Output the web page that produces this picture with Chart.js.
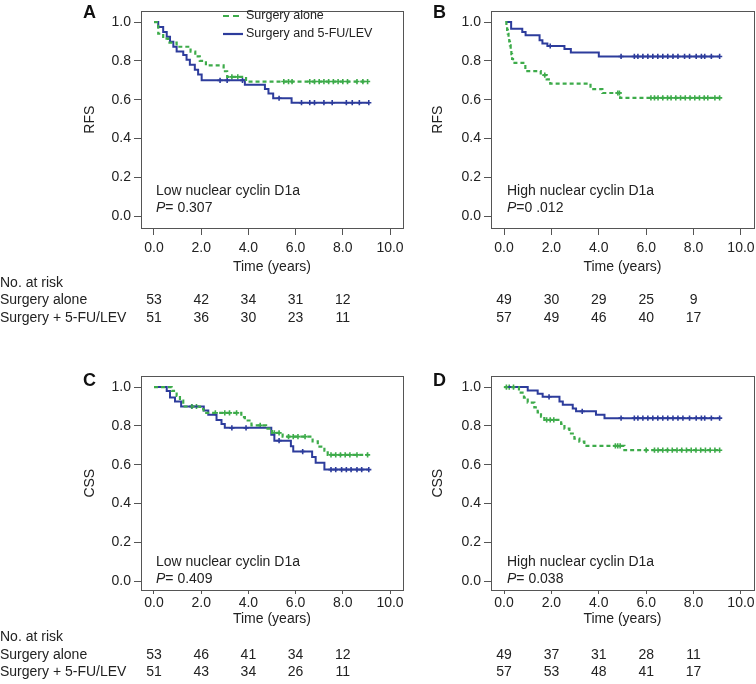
<!DOCTYPE html>
<html>
<head>
<meta charset="utf-8">
<script src="https://cdn.jsdelivr.net/npm/chart.js@4.4.1/dist/chart.umd.min.js"></script>
<style>
  body { margin: 0; background: #fff; }
  #wrap { position: relative; width: 756px; height: 684px; overflow: hidden; }
  canvas { position: absolute; }
</style>
</head>
<body>
<div id="wrap">
  <canvas id="cA" width="430" height="330" style="left:0;top:0"></canvas>
  <canvas id="cB" width="400" height="330" style="left:378px;top:0"></canvas>
  <canvas id="cC" width="430" height="319" style="left:0;top:365px"></canvas>
  <canvas id="cD" width="400" height="319" style="left:378px;top:365px"></canvas>
</div>
<script>
// axes
var xTicks = [0, 2, 4, 6, 8, 10];
var yTicks = [0, 0.2, 0.4, 0.6, 0.8, 1.0];
var riskTimes = [0, 2, 4, 6, 8];
var seriesNames = ['Surgery alone', 'Surgery and 5-FU/LEV'];
var riskRowNames = ['Surgery alone', 'Surgery + 5-FU/LEV'];

// A - RFS, low nuclear cyclin D1a
var A_aloneT = [0, 0.18, 0.39, 0.6, 0.96, 1.55, 1.75, 1.94, 2.2, 2.95, 3.1, 3.9, 9.05];
var A_aloneS = [1.0, 0.94, 0.915, 0.894, 0.873, 0.848, 0.823, 0.80, 0.777, 0.747, 0.718, 0.694, 0.694];
var A_aloneCens = [3.3, 3.55, 5.5, 5.7, 5.85, 6.6, 6.8, 7.0, 7.2, 7.4, 7.6, 7.8, 8.0, 8.2, 8.6, 8.85, 9.05];
var A_combT = [0.04, 0.18, 0.39, 0.54, 0.68, 0.82, 0.96, 1.24, 1.38, 1.52, 1.73, 1.87, 2.02, 3.85, 4.7, 4.85, 5.05, 5.83, 9.1];
var A_combS = [1.0, 0.975, 0.949, 0.924, 0.899, 0.873, 0.848, 0.831, 0.806, 0.78, 0.755, 0.73, 0.70, 0.678, 0.656, 0.632, 0.608, 0.585, 0.585];
var A_combCens = [2.8, 3.1, 3.75, 5.3, 6.25, 6.6, 6.8, 7.2, 7.55, 8.15, 8.4, 8.7, 9.1];
var A_riskAlone = [53, 42, 34, 31, 12];
var A_riskComb = [51, 36, 30, 23, 11];

// B - RFS, high nuclear cyclin D1a
var B_aloneT = [0.05, 0.1, 0.13, 0.16, 0.19, 0.22, 0.25, 0.28, 0.31, 0.34, 0.38, 0.9, 1.55, 1.8, 1.95, 3.65, 4.15, 4.9, 9.1];
var B_aloneS = [1.0, 0.98, 0.96, 0.94, 0.92, 0.90, 0.88, 0.855, 0.835, 0.81, 0.79, 0.748, 0.727, 0.705, 0.683, 0.655, 0.635, 0.61, 0.61];
var B_aloneCens = [1.72, 4.8, 4.87, 6.2, 6.35, 6.5, 6.7, 6.9, 7.05, 7.25, 7.45, 7.65, 7.85, 8.05, 8.25, 8.45, 8.6, 8.9, 9.1];
var B_combT = [0.08, 0.3, 0.77, 0.91, 1.5, 1.62, 1.83, 2.55, 2.82, 4.0, 9.1];
var B_combS = [1.0, 0.966, 0.949, 0.932, 0.907, 0.89, 0.877, 0.862, 0.843, 0.823, 0.823];
var B_combCens = [1.95, 4.94, 5.5, 5.65, 5.86, 6.07, 6.28, 6.49, 6.7, 6.91, 7.13, 7.34, 7.62, 7.83, 8.11, 8.33, 8.47, 8.75, 9.1];
var B_riskAlone = [49, 30, 29, 25, 9];
var B_riskComb = [57, 49, 46, 40, 17];

// C - CSS, low nuclear cyclin D1a
var C_aloneT = [0, 0.75, 0.96, 1.1, 1.24, 1.95, 2.1, 3.7, 3.85, 4.13, 4.75, 5.0, 5.45, 6.72, 6.94, 7.22, 7.36, 9.05];
var C_aloneS = [1.0, 0.98, 0.955, 0.93, 0.9, 0.887, 0.867, 0.845, 0.828, 0.803, 0.786, 0.764, 0.745, 0.72, 0.693, 0.672, 0.651, 0.651];
var C_aloneCens = [1.6, 1.8, 2.6, 3.0, 3.2, 3.5, 4.5, 5.1, 5.3, 5.7, 5.9, 6.1, 6.4, 7.5, 7.7, 7.9, 8.1, 8.3, 8.6, 9.05];
var C_combT = [0.04, 0.54, 0.68, 0.89, 1.15, 2.11, 2.3, 2.65, 2.86, 3.0, 4.97, 5.1, 5.8, 5.9, 6.7, 6.85, 7.22, 9.1];
var C_combS = [1.0, 0.98, 0.946, 0.926, 0.90, 0.879, 0.857, 0.83, 0.81, 0.79, 0.755, 0.724, 0.695, 0.668, 0.64, 0.61, 0.575, 0.575];
var C_combCens = [1.6, 3.3, 3.9, 5.3, 6.3, 7.5, 7.7, 7.95, 8.15, 8.35, 8.6, 8.8, 9.1];
var C_riskAlone = [53, 46, 41, 34, 12];
var C_riskComb = [51, 43, 34, 26, 11];

// D - CSS, high nuclear cyclin D1a
var D_aloneT = [0.01, 0.63, 0.84, 1.0, 1.28, 1.42, 1.56, 1.7, 2.41, 2.55, 2.76, 2.97, 3.18, 3.39, 5.08, 9.1];
var D_aloneS = [1.0, 0.971, 0.946, 0.92, 0.895, 0.87, 0.848, 0.831, 0.811, 0.786, 0.761, 0.735, 0.719, 0.697, 0.675, 0.675];
var D_aloneCens = [0.1, 0.22, 0.4, 1.8, 1.95, 2.1, 4.7, 4.8, 4.9, 6.0, 6.35, 6.5, 6.7, 6.9, 7.1, 7.3, 7.5, 7.7, 7.9, 8.1, 8.3, 8.5, 8.7, 8.9, 9.1];
var D_combT = [0.08, 1.0, 1.42, 1.63, 2.34, 2.48, 2.9, 3.04, 3.88, 4.24, 9.1];
var D_combS = [1.0, 0.983, 0.966, 0.95, 0.926, 0.909, 0.89, 0.875, 0.858, 0.84, 0.84];
var D_combCens = [1.9, 3.3, 4.94, 5.5, 5.65, 5.86, 6.07, 6.28, 6.49, 6.7, 6.91, 7.13, 7.34, 7.55, 7.83, 8.11, 8.33, 8.47, 8.75, 9.1];
var D_riskAlone = [49, 37, 31, 28, 11];
var D_riskComb = [57, 53, 48, 41, 17];

var GREEN = '#3dab4a';
var BLUE = '#2d3c9c';
var TXT = '#222';
var FONT = 'Liberation Sans, Arial, Helvetica, sans-serif';

function stepAt(T, S, t) {
  var v = S[0];
  for (var i = 0; i < T.length; i++) { if (T[i] <= t) v = S[i]; }
  return v;
}
function steps(T, S) { return T.map(function (t, i) { return { x: t, y: S[i] }; }); }
function marks(T, S, C) { return C.map(function (t) { return { x: t, y: stepAt(T, S, t) }; }); }

function drawP(ctx, x, y, rest) {
  ctx.font = 'italic 14px ' + FONT;
  ctx.fillText('P', x, y);
  var w = ctx.measureText('P').width;
  ctx.font = '14px ' + FONT;
  ctx.fillText(rest, x + w, y);
}

function makePanel(id, p) {
  var plugin = {
    id: 'extras' + p.letter,
    afterDraw: function (chart) {
      var ctx = chart.ctx, a = chart.chartArea, xs = chart.scales.x;
      ctx.save();
      ctx.strokeStyle = '#555';
      ctx.lineWidth = 1;
      ctx.strokeRect(Math.round(a.left) + 0.5, Math.round(a.top) + 0.5,
        Math.round(a.right - a.left), Math.round(a.bottom - a.top));

      ctx.fillStyle = '#111';
      ctx.font = 'bold 18px ' + FONT;
      ctx.textBaseline = 'middle';
      ctx.textAlign = 'left';
      ctx.fillText(p.letter, p.letterX, p.letterY);

      ctx.fillStyle = TXT;
      ctx.font = '14px ' + FONT;
      ctx.fillText(p.note, a.left + p.noteDx, a.bottom + p.noteDy);
      drawP(ctx, a.left + p.noteDx, a.bottom + p.noteDy + 17, p.pText);

      if (p.legend) {
        ctx.lineWidth = 2.2;
        ctx.strokeStyle = GREEN;
        ctx.setLineDash([6, 4]);
        ctx.beginPath(); ctx.moveTo(223, 16); ctx.lineTo(243, 16); ctx.stroke();
        ctx.setLineDash([]);
        ctx.strokeStyle = BLUE;
        ctx.beginPath(); ctx.moveTo(223, 34); ctx.lineTo(243, 34); ctx.stroke();
        ctx.fillStyle = TXT;
        ctx.font = '12.5px ' + FONT;
        ctx.fillText(seriesNames[0], 246, 16);
        ctx.fillText(seriesNames[1], 246, 34);
      }

      ctx.font = '14px ' + FONT;
      ctx.fillStyle = TXT;
      if (p.rowLabels) {
        ctx.textAlign = 'left';
        ctx.fillText('No. at risk', 0, p.riskY[0]);
        ctx.fillText(riskRowNames[0], 0, p.riskY[1]);
        ctx.fillText(riskRowNames[1], 0, p.riskY[2]);
      }
      ctx.textAlign = 'center';
      riskTimes.forEach(function (t, i) {
        var x = xs.getPixelForValue(t);
        ctx.fillText(String(p.riskAlone[i]), x, p.riskY[1]);
        ctx.fillText(String(p.riskComb[i]), x, p.riskY[2]);
      });
      ctx.restore();
    }
  };

  return new Chart(document.getElementById(id), {
    type: 'line',
    data: {
      datasets: [
        { label: seriesNames[0], data: steps(p.aT, p.aS), stepped: true, borderColor: GREEN,
          borderWidth: 2.2, borderDash: [4, 3], pointRadius: 0, fill: false },
        { label: seriesNames[1], data: steps(p.cT, p.cS), stepped: true, borderColor: BLUE,
          borderWidth: 2, pointRadius: 0, fill: false },
        { data: marks(p.aT, p.aS, p.aC), showLine: false, pointStyle: 'cross', pointRadius: 2.6,
          pointBorderWidth: 1.6, borderColor: GREEN, backgroundColor: GREEN },
        { data: marks(p.cT, p.cS, p.cC), showLine: false, pointStyle: 'cross', pointRadius: 2.6,
          pointBorderWidth: 1.6, borderColor: BLUE, backgroundColor: BLUE }
      ]
    },
    options: {
      responsive: false,
      animation: false,
      layout: { padding: { left: 0, top: p.padTop, right: p.padRight, bottom: p.padBottom } },
      plugins: { legend: { display: false }, tooltip: { enabled: false } },
      scales: {
        x: {
          type: 'linear', min: -0.55, max: 10.55,
          afterBuildTicks: function (s) { s.ticks = xTicks.map(function (v) { return { value: v }; }); },
          afterFit: function (s) { s.height = p.xH; },
          border: { display: false },
          grid: { drawOnChartArea: false, tickLength: p.xTick, color: '#555' },
          ticks: { color: TXT, font: { size: 14, family: FONT }, padding: p.xPad, autoSkip: false, maxRotation: 0,
            callback: function (v) { return v.toFixed(1); } },
          title: { display: true, text: 'Time (years)', color: TXT, font: { size: 14, family: FONT }, padding: 0 }
        },
        y: {
          min: p.yMin, max: 1.055,
          afterBuildTicks: function (s) { s.ticks = yTicks.map(function (v) { return { value: v }; }); },
          afterFit: function (s) { s.width = p.yW; },
          border: { display: false },
          grid: { drawOnChartArea: false, tickLength: 7, color: '#555' },
          ticks: { color: TXT, font: { size: 14, family: FONT }, padding: 3,
            callback: function (v) { return v.toFixed(1); } },
          title: { display: true, text: p.yTitle, color: TXT, font: { size: 14, family: FONT },
            padding: { top: p.yTitlePad, bottom: 0 } }
        }
      }
    },
    plugins: [plugin]
  });
}

makePanel('cA', { letter: 'A', letterX: 83, letterY: 13, yTitle: 'RFS', yW: 141, yTitlePad: 81.6,
  padTop: 8, padRight: 27, padBottom: 54, xH: 48, xPad: 5, xTick: 7, yMin: -0.06,
  aT: A_aloneT, aS: A_aloneS, aC: A_aloneCens, cT: A_combT, cS: A_combS, cC: A_combCens,
  note: 'Low nuclear cyclin D1a', pText: '= 0.307', noteDx: 15, noteDy: -37, legend: true,
  rowLabels: true, riskY: [283, 300, 318], riskAlone: A_riskAlone, riskComb: A_riskComb });

makePanel('cB', { letter: 'B', letterX: 55, letterY: 13, yTitle: 'RFS', yW: 113, yTitlePad: 51.6,
  padTop: 8, padRight: 24, padBottom: 54, xH: 48, xPad: 5, xTick: 7, yMin: -0.06,
  aT: B_aloneT, aS: B_aloneS, aC: B_aloneCens, cT: B_combT, cS: B_combS, cC: B_combCens,
  note: 'High nuclear cyclin D1a', pText: '=0 .012', noteDx: 16, noteDy: -37, legend: false,
  rowLabels: false, riskY: [283, 300, 318], riskAlone: B_riskAlone, riskComb: B_riskComb });

makePanel('cC', { letter: 'C', letterX: 83, letterY: 16, yTitle: 'CSS', yW: 141, yTitlePad: 81.6,
  padTop: 8, padRight: 27, padBottom: 56.6, xH: 37.4, xPad: 1, xTick: 4, yMin: -0.045,
  aT: C_aloneT, aS: C_aloneS, aC: C_aloneCens, cT: C_combT, cS: C_combS, cC: C_combCens,
  note: 'Low nuclear cyclin D1a', pText: '= 0.409', noteDx: 15, noteDy: -28, legend: false,
  rowLabels: true, riskY: [272, 290, 307], riskAlone: C_riskAlone, riskComb: C_riskComb });

makePanel('cD', { letter: 'D', letterX: 55, letterY: 16, yTitle: 'CSS', yW: 113, yTitlePad: 51.6,
  padTop: 8, padRight: 24, padBottom: 56.6, xH: 37.4, xPad: 1, xTick: 4, yMin: -0.045,
  aT: D_aloneT, aS: D_aloneS, aC: D_aloneCens, cT: D_combT, cS: D_combS, cC: D_combCens,
  note: 'High nuclear cyclin D1a', pText: '= 0.038', noteDx: 16, noteDy: -28, legend: false,
  rowLabels: false, riskY: [272, 290, 307], riskAlone: D_riskAlone, riskComb: D_riskComb });
</script>
</body>
</html>
